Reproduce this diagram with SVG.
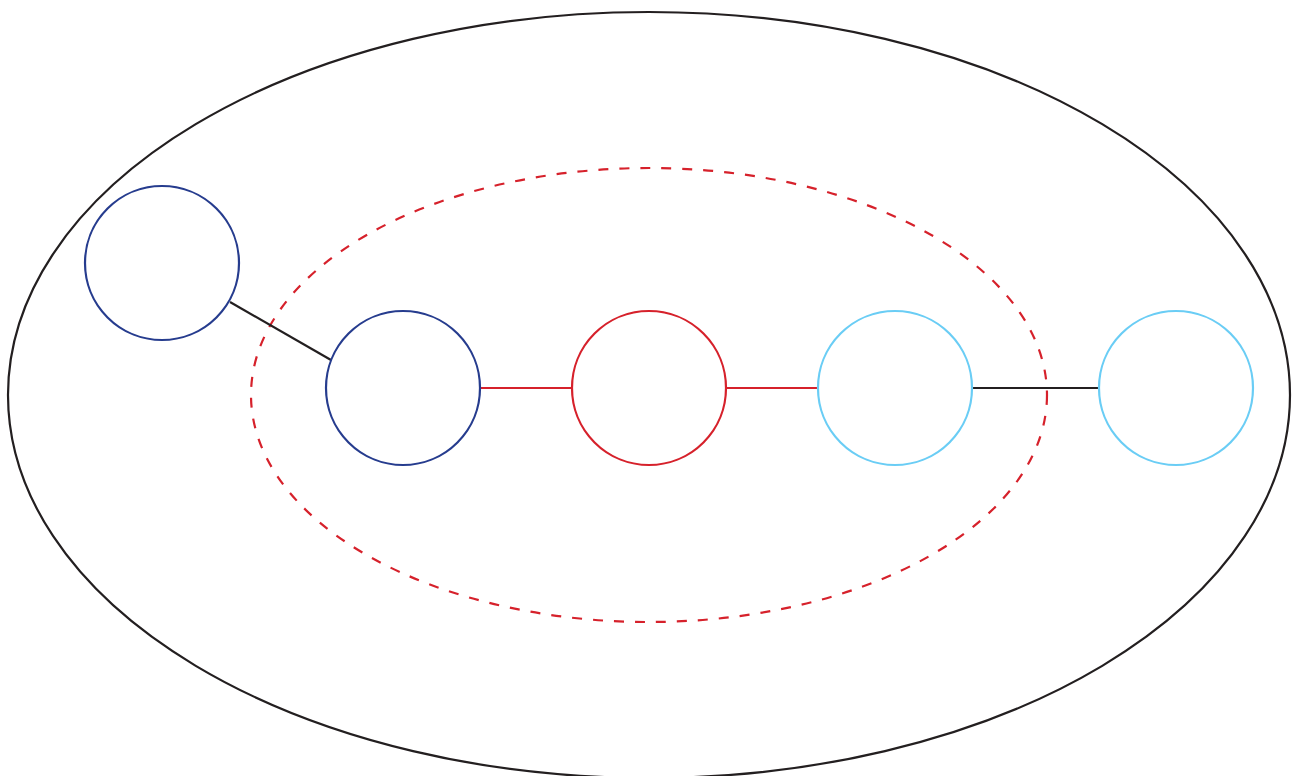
<svg xmlns="http://www.w3.org/2000/svg" width="1293" height="776" viewBox="0 0 1293 776">
<style>
.n{fill:none;stroke-width:2.2}
.navy{stroke:#263C8E}
.red{stroke:#D6212B}
.lb{stroke:#6ACDF5}
.k{stroke:#231F20;stroke-width:2.2;fill:none}
.r{stroke:#D6212B;stroke-width:2.2;fill:none}
</style>
<rect width="1293" height="776" fill="#fff"/>
<g id="outer"><ellipse cx="649" cy="395" rx="641" ry="383" fill="none" stroke="#231F20" stroke-width="2.2"/></g>
<g id="inner"><ellipse cx="649" cy="395" rx="398" ry="227" fill="none" stroke="#D6212B" stroke-width="2.2" stroke-dasharray="10 11"/></g>
<g id="connectors">
<line class="k" x1="230" y1="302" x2="331" y2="360"/>
<line class="r" x1="481" y1="388" x2="572" y2="388"/>
<line class="r" x1="726" y1="388" x2="818" y2="388"/>
<line class="k" x1="972" y1="388" x2="1100" y2="388"/>
</g>
<g id="n1"><circle class="n navy" cx="162" cy="263" r="77"/></g>
<g id="n2"><circle class="n navy" cx="403" cy="388" r="77"/></g>
<g id="n3"><circle class="n red" cx="649" cy="388" r="77"/></g>
<g id="n4"><circle class="n lb" cx="895" cy="388" r="77"/></g>
<g id="n5"><circle class="n lb" cx="1176" cy="388" r="77"/></g>
</svg>
